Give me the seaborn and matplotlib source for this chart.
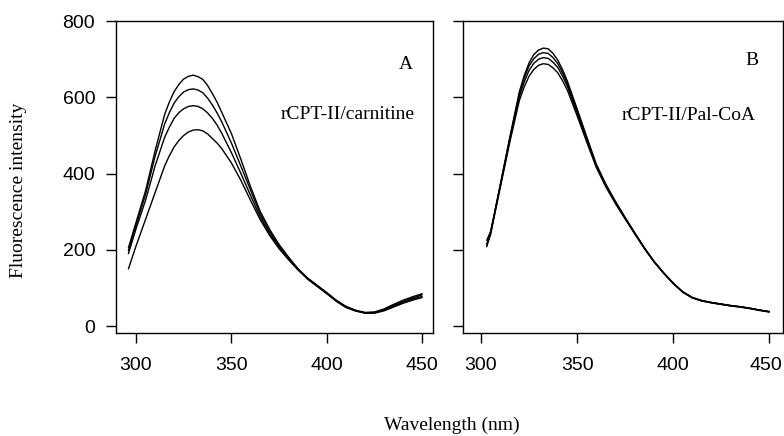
import numpy as np
import pandas as pd
import matplotlib
matplotlib.use("Agg")
import matplotlib.pyplot as plt
import matplotlib.transforms as mtransforms
import seaborn as sns

# ---------------- data ----------------
wl_a = [296, 300, 305, 310, 315, 317.5, 320, 322.5, 325, 327.5, 330, 332.5,
        335, 337.5, 340, 342.5, 345, 350, 355, 360, 365, 370, 375, 380, 385,
        390, 395, 400, 405, 410, 415, 420, 425, 430, 435, 440, 445, 450]
a1 = [205, 272, 355, 460, 555, 588, 615, 634, 648, 655, 658, 654, 647, 631,
      610, 587, 560, 505, 437, 366, 302, 254, 214, 181, 150, 126, 107, 88, 68,
      52, 42, 36, 37, 45, 57, 68, 77, 85]
a2 = [198, 265, 345, 445, 530, 560, 585, 602, 614, 620, 622, 619, 612, 598,
      580, 559, 535, 480, 419, 357, 295, 248, 210, 178, 149, 125, 106, 87, 67,
      51, 41, 35, 36, 43, 54, 65, 74, 82]
a3 = [190, 255, 330, 420, 495, 522, 545, 560, 570, 576, 578, 576, 570, 559,
      545, 527, 505, 455, 400, 343, 287, 242, 206, 176, 148, 124, 105, 86, 66,
      50, 40, 35, 35, 42, 52, 62, 71, 78]
a4 = [150, 210, 280, 350, 420, 447, 470, 487, 500, 509, 514, 515, 512, 504,
      492, 480, 465, 428, 382, 330, 280, 238, 203, 174, 147, 123, 104, 85, 65,
      49, 40, 34, 34, 40, 50, 60, 68, 75]

wl_b = [303, 305, 310, 315, 320, 322.5, 325, 327.5, 330, 332.5, 335, 337.5,
        340, 342.5, 345, 350, 355, 360, 365, 370, 375, 380, 385, 390, 395, 400,
        405, 410, 415, 420, 425, 430, 435, 440, 445, 450]
b1 = [215, 245, 370, 495, 615, 657, 690, 712, 724, 729, 727, 715, 697, 672,
      642, 570, 497, 425, 372, 327, 285, 245, 206, 170, 140, 113, 90, 75, 67,
      62, 58, 54, 51, 47, 42, 38]
b2 = [208, 243, 368, 492, 610, 650, 682, 701, 713, 717, 715, 704, 688, 664,
      635, 565, 492, 422, 370, 325, 284, 244, 205, 170, 140, 113, 90, 75, 67,
      62, 58, 54, 51, 47, 42, 38]
b3 = [225, 248, 366, 488, 602, 640, 670, 689, 700, 704, 702, 692, 678, 655,
      628, 560, 488, 420, 368, 323, 283, 243, 204, 169, 139, 112, 89, 74, 66,
      61, 57, 53, 50, 46, 42, 38]
b4 = [212, 240, 362, 482, 592, 627, 655, 673, 684, 688, 686, 677, 664, 643,
      618, 552, 483, 416, 365, 321, 281, 242, 204, 169, 139, 112, 89, 74, 66,
      61, 57, 53, 50, 46, 41, 37]

x_ticks = [300, 350, 400, 450]
y_ticks = [0, 200, 400, 600, 800]
panel_a_label = "rCPT-II/carnitine"
panel_b_label = "rCPT-II/Pal-CoA"
x_title = "Wavelength (nm)"
y_title = "Fluorescence intensity"


def long_frame(wl, curves):
    rows = []
    for name, vals in curves.items():
        for w, v in zip(wl, vals):
            rows.append({"wl": w, "val": v, "curve": name})
    return pd.DataFrame(rows)


df_a = long_frame(wl_a, {"a1": a1, "a2": a2, "a3": a3, "a4": a4})
df_b = long_frame(wl_b, {"b1": b1, "b2": b2, "b3": b3, "b4": b4})

# ---------------- style ----------------
sns.set_style("ticks")
plt.rcParams["font.family"] = ["Liberation Sans", "DejaVu Sans"]
serif = ["Liberation Serif", "DejaVu Serif"]

fig = plt.figure(figsize=(7.84, 4.36), dpi=100)
ax_a = fig.add_axes([116 / 784, 1 - 333 / 436, 317 / 784, 312 / 436])
ax_b = fig.add_axes([462.7 / 784, 1 - 333 / 436, 320 / 784, 312 / 436])

sns.lineplot(data=df_a, x="wl", y="val", hue="curve",
             palette=["black"] * 4, legend=False, linewidth=1.0, ax=ax_a,
             estimator=None)
sns.lineplot(data=df_b, x="wl", y="val", hue="curve",
             palette=["black"] * 4, legend=False, linewidth=1.0, ax=ax_b,
             estimator=None)

for ax, xl in ((ax_a, (289.5, 455.7)), (ax_b, (290.5, 457.0))):
    ax.set_xlim(*xl)
    ax.set_ylim(-18, 800)
    ax.set_xticks(x_ticks)
    ax.set_yticks(y_ticks)
    ax.set_xlabel("")
    ax.set_ylabel("")
    for s in ax.spines.values():
        s.set_visible(True)
        s.set_linewidth(1.0)
        s.set_color("black")
    ax.tick_params(axis="both", direction="out", length=7, width=1.0,
                   color="black", labelcolor="black", labelsize=14, pad=8)
    ax.tick_params(axis="x", pad=10)

ax_b.set_yticklabels([])

# keep the last tick label of panel B inside the canvas (it touches the edge)
last_lbl = ax_b.get_xticklabels()[-1]
last_lbl.set_transform(last_lbl.get_transform() +
                       mtransforms.ScaledTranslation(-3 / 100, 0,
                                                     fig.dpi_scale_trans))

ax_a.text(0.915, 0.859, "A", transform=ax_a.transAxes, ha="center",
          va="center", fontsize=14, family=serif, color="black")
ax_a.text(0.732, 0.699, panel_a_label, transform=ax_a.transAxes, ha="center",
          va="center", fontsize=14, family=serif, color="black")
ax_b.text(0.903, 0.872, "B", transform=ax_b.transAxes, ha="center",
          va="center", fontsize=14, family=serif, color="black")
ax_b.text(0.707, 0.696, panel_b_label, transform=ax_b.transAxes, ha="center",
          va="center", fontsize=14, family=serif, color="black")

fig.text(19 / 784, 1 - 190 / 436, y_title, rotation=90, ha="center",
         va="center", fontsize=14, family=serif, color="black")
fig.text(452 / 784, 1 - 425 / 436, x_title, ha="center", va="center",
         fontsize=14, family=serif, color="black")

fig.savefig("out.png", dpi=100)
